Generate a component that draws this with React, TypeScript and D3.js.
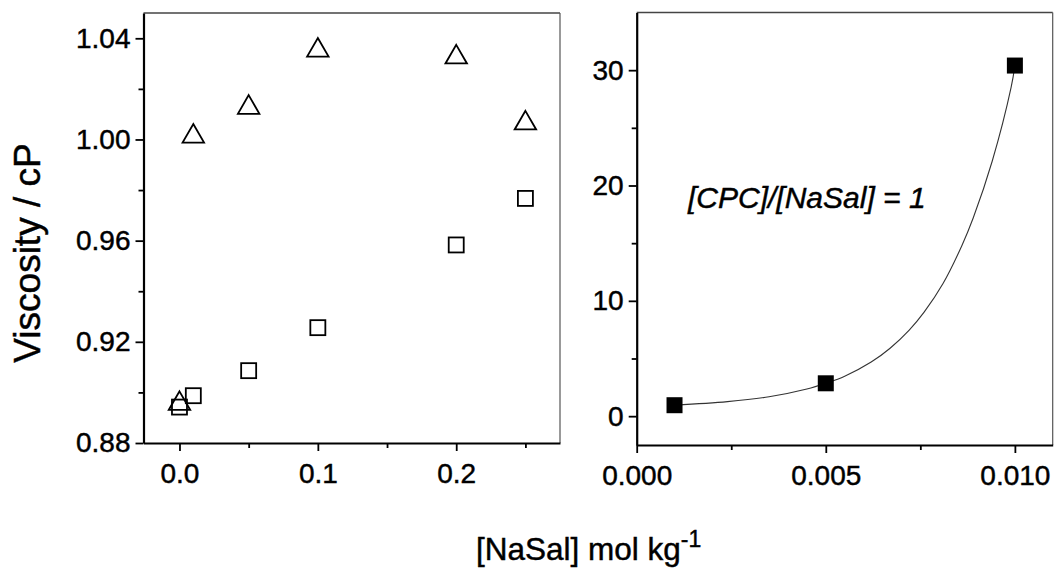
import React, { useEffect, useRef } from "react";
import * as d3 from "d3";

// Left panel: viscosity of NaSal solutions vs concentration
const naSalConc = [0, 0.01, 0.05, 0.1, 0.2, 0.25];
const triangleSeries = [0.8963, 1.002, 1.0134, 1.036, 1.0333, 1.0072];
const squareSeries = [0.8942, 0.8987, 0.9086, 0.9256, 0.9583, 0.9767];
const leftYTicks = [0.88, 0.92, 0.96, 1.0, 1.04];
const leftYMinor = [0.9, 0.94, 0.98, 1.02];
const leftXTicks = [0, 0.1, 0.2];
const leftXMinor = [0.05, 0.15, 0.25];

// Right panel: equimolar CPC/NaSal viscosity with fitted curve
const cpcConc = [0.001, 0.005, 0.01];
const cpcViscosity = [0.95, 2.85, 30.4];
const fitConc = [0.001, 0.0024, 0.0035, 0.0045, 0.005, 0.0055, 0.0062, 0.0067, 0.0072, 0.0076, 0.0081, 0.0086, 0.0089, 0.0094, 0.0099, 0.01];
const fitViscosity = [0.95, 1.26, 1.68, 2.35, 2.85, 3.46, 4.69, 5.89, 7.44, 9.02, 11.5, 14.8, 17.2, 22.1, 28.5, 30.4];
const rightYTicks = [0, 10, 20, 30];
const rightYMinor = [5, 15, 25];
const rightXTicks = [0, 0.005, 0.01];
const rightXMinor = [0.0025, 0.0075];

const FONT = "'Liberation Sans', Arial, Helvetica, sans-serif";
const TEXT_STROKE = 0.45;

export default function App() {
  const ref = useRef<SVGSVGElement | null>(null);

  useEffect(() => {
    const svg = d3.select(ref.current);
    svg.selectAll("*").remove();

    const drawAxes = (
      g: d3.Selection<SVGGElement, unknown, null, undefined>,
      x: d3.ScaleLinear<number, number>,
      y: d3.ScaleLinear<number, number>,
      xt: number[], xm: number[], xf: (d: number) => string,
      yt: number[], ym: number[], yf: (d: number) => string
    ) => {
      const [x0, x1] = x.range();
      const [y0, y1] = y.range();
      // frame (top & right lighter)
      g.append("line").attr("x1", x0).attr("x2", x1).attr("y1", y1).attr("y2", y1)
        .attr("stroke", "#444").attr("stroke-width", 1.4);
      g.append("line").attr("x1", x1).attr("x2", x1).attr("y1", y1).attr("y2", y0)
        .attr("stroke", "#555").attr("stroke-width", 1.2);

      const ax = g.append("g").attr("transform", `translate(0,${y0})`)
        .call(d3.axisBottom(x).tickValues(xt).tickFormat(xf as any).tickSize(8).tickPadding(12).tickSizeOuter(0));
      g.append("g").attr("transform", `translate(0,${y0})`)
        .call(d3.axisBottom(x).tickValues(xm).tickFormat(() => "").tickSize(5).tickSizeOuter(0))
        .select(".domain").remove();
      const ay = g.append("g").attr("transform", `translate(${x0},0)`)
        .call(d3.axisLeft(y).tickValues(yt).tickFormat(yf as any).tickSize(8).tickPadding(5).tickSizeOuter(0));
      g.append("g").attr("transform", `translate(${x0},0)`)
        .call(d3.axisLeft(y).tickValues(ym).tickFormat(() => "").tickSize(5).tickSizeOuter(0))
        .select(".domain").remove();

      g.selectAll(".domain").attr("stroke", "#000").attr("stroke-width", 2.2);
      g.selectAll(".tick line").attr("stroke", "#000").attr("stroke-width", 1.8);
      [ax, ay].forEach((a) =>
        a.selectAll("text")
          .attr("font-family", FONT).attr("font-size", 28).attr("fill", "#000")
          .attr("stroke", "#000").attr("stroke-width", TEXT_STROKE)
      );
    };

    // ---------- left panel ----------
    const lx = d3.scaleLinear().domain([-0.026, 0.275]).range([143.5, 560]);
    const ly = d3.scaleLinear().domain([0.88, 1.05]).range([443, 13]);
    const left = svg.append("g");
    drawAxes(left, lx, ly, leftXTicks, leftXMinor, d3.format(".1f"), leftYTicks, leftYMinor, d3.format(".2f"));

    const tri = d3.symbol().type(d3.symbolTriangle).size(200);
    left.selectAll("path.tri").data(naSalConc).enter().append("path")
      .attr("class", "tri")
      .attr("d", tri as any)
      .attr("transform", (d, i) => `translate(${lx(d)},${ly(triangleSeries[i]) + 2})`)
      .attr("fill", "none").attr("stroke", "#000").attr("stroke-width", 1.8);

    const sq = 15;
    left.selectAll("rect.sq").data(naSalConc).enter().append("rect")
      .attr("class", "sq")
      .attr("x", (d) => lx(d) - sq / 2)
      .attr("y", (d, i) => ly(squareSeries[i]) - sq / 2)
      .attr("width", sq).attr("height", sq)
      .attr("fill", "none").attr("stroke", "#000").attr("stroke-width", 1.8);

    // ---------- right panel ----------
    const rx = d3.scaleLinear().domain([0, 0.011]).range([636.7, 1052.7]);
    const ry = d3.scaleLinear().domain([-2.5, 35]).range([445, 12.5]);
    const right = svg.append("g");
    drawAxes(right, rx, ry, rightXTicks, rightXMinor, d3.format(".3f"), rightYTicks, rightYMinor, d3.format("d"));

    const line = d3.line<number>()
      .x((d) => rx(d))
      .y((d, i) => ry(fitViscosity[i]))
      .curve(d3.curveCatmullRom.alpha(0.5));
    right.append("path").attr("d", line(fitConc) as string)
      .attr("fill", "none").attr("stroke", "#333").attr("stroke-width", 1.1);

    const fs = 16;
    right.selectAll("rect.fsq").data(cpcConc).enter().append("rect")
      .attr("class", "fsq")
      .attr("x", (d) => rx(d) - fs / 2)
      .attr("y", (d, i) => ry(cpcViscosity[i]) - fs / 2)
      .attr("width", fs).attr("height", fs)
      .attr("fill", "#000");

    right.append("text")
      .attr("x", 688).attr("y", 208)
      .attr("font-family", FONT).attr("font-size", 30).attr("font-style", "italic")
      .attr("stroke", "#000").attr("stroke-width", TEXT_STROKE)
      .text("[CPC]/[NaSal] = 1");

    // ---------- shared axis titles ----------
    svg.append("text")
      .attr("transform", "translate(40,253) rotate(-90)")
      .attr("text-anchor", "middle")
      .attr("font-family", FONT).attr("font-size", 37)
      .attr("stroke", "#000").attr("stroke-width", TEXT_STROKE)
      .text("Viscosity / cP");

    const xt = svg.append("text")
      .attr("x", 476).attr("y", 560)
      .attr("font-family", FONT).attr("font-size", 31.5)
      .attr("stroke", "#000").attr("stroke-width", TEXT_STROKE);
    xt.append("tspan").text("[NaSal] mol kg");
    xt.append("tspan").attr("dy", -13).attr("font-size", 23).text("-1");
  }, []);

  return (
    <svg
      ref={ref}
      width={1057}
      height={574}
      style={{ position: "absolute", left: 0, top: 0, background: "#fff" }}
    />
  );
}
